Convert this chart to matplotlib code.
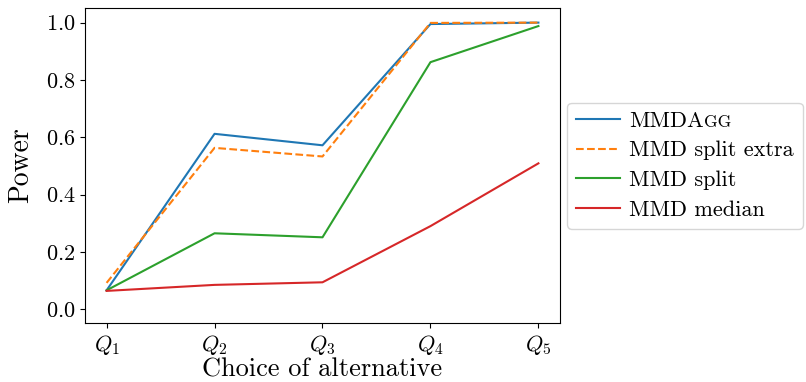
import matplotlib
matplotlib.use("Agg")
import matplotlib.pyplot as plt

plt.rcParams['font.family'] = 'serif'
plt.rcParams['font.serif'] = ['cmr10']
plt.rcParams['mathtext.fontset'] = 'cm'
plt.rcParams['axes.formatter.use_mathtext'] = True

x_labels = [r'$Q_1$', r'$Q_2$', r'$Q_3$', r'$Q_4$', r'$Q_5$']
mmdagg = [0.066, 0.612, 0.572, 0.995, 1.0]
mmd_split_extra = [0.092, 0.563, 0.533, 0.999, 1.0]
mmd_split = [0.066, 0.265, 0.251, 0.862, 0.988]
mmd_median = [0.064, 0.085, 0.094, 0.290, 0.509]

fig = plt.figure(figsize=(8.06, 3.82), dpi=100)
ax = fig.add_axes([85/806, 1-323/382, (560-85)/806, (323-8)/382])
xs = list(range(len(x_labels)))
ax.plot(xs, mmdagg, color='#1f77b4', label='MMDA')
ax.plot(xs, mmd_split_extra, color='#ff7f0e', linestyle='--', label='MMD split extra')
ax.plot(xs, mmd_split, color='#2ca02c', label='MMD split')
ax.plot(xs, mmd_median, color='#d62728', label='MMD median')
ax.set_xticks(xs)
ax.set_xticklabels(x_labels)
ax.set_yticks([0.0, 0.2, 0.4, 0.6, 0.8, 1.0])
ax.set_ylim(-0.048, 1.051)
ax.tick_params(labelsize=16)
ax.set_xlabel('Choice of alternative', fontsize=19, labelpad=1)
ax.set_ylabel('Power', fontsize=20, labelpad=8)
leg = ax.legend(loc='center left', bbox_to_anchor=(1.015, 0.5), fontsize=16,
                borderaxespad=0.0, handletextpad=0.4, borderpad=0.4,
                labelspacing=0.45)

fig.canvas.draw()
t = leg.get_texts()[0]
bb = t.get_window_extent()
inv = fig.transFigure.inverted()
x0, y0 = inv.transform((bb.x1, bb.y0))
fig.text(x0, y0 + 0.011, 'GG', fontsize=12.5, ha='left', va='baseline')

fig.savefig('out.png', dpi=100)
